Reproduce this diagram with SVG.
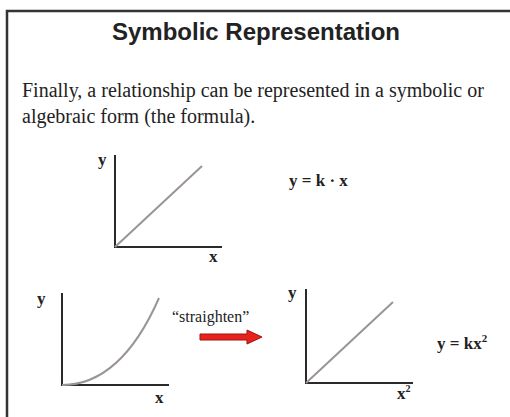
<svg xmlns="http://www.w3.org/2000/svg" width="510" height="417" viewBox="0 0 510 417">
<style>
.axis{stroke:#2a2a2a;stroke-width:2;fill:none}
.line{stroke:#9a9496;stroke-width:2;fill:none}
.lbl{font-family:"Liberation Serif","Times New Roman",serif;font-weight:bold;font-size:17px;fill:#222}
.eq{font-family:"Liberation Serif","Times New Roman",serif;font-weight:bold;font-size:17px;fill:#222}
.body{font-family:"Liberation Serif","Times New Roman",serif;font-size:20px;fill:#222}
</style>
<rect x="0" y="0" width="510" height="417" fill="#fff"/>
<rect x="7" y="11" width="520" height="420" fill="none" stroke="#333" stroke-width="2.5"/>
<g id="title">
<text x="256" y="40" text-anchor="middle" font-family="'Liberation Sans',Arial,sans-serif" font-weight="bold" font-size="24" fill="#222">Symbolic Representation</text>
</g>
<g id="intro">
<text class="body" x="22" y="97">Finally, a relationship can be represented in a symbolic or</text>
<text class="body" x="22" y="123">algebraic form (the formula).</text>
</g>
<g id="graph-linear">
<path class="axis" d="M115 155 V247 H222"/>
<path class="line" d="M115 247 L202 166"/>
<text class="lbl" x="98" y="165">y</text>
<text class="lbl" x="209" y="262">x</text>
</g>
<g id="formula-linear">
<text class="eq" x="289" y="186">y = k · x</text>
</g>
<g id="graph-curve">
<path class="axis" d="M62 293 V385 H169"/>
<path class="line" d="M62 385 C95 385 130 364 159 298"/>
<text class="lbl" x="37" y="304">y</text>
<text class="lbl" x="155" y="403">x</text>
</g>
<g id="straighten">
<text x="172" y="322" font-family="'Liberation Serif','Times New Roman',serif" font-size="16" fill="#222">“straighten”</text>
</g>
<g id="graph-straight">
<path class="axis" d="M306 289 V383 H413"/>
<path class="line" d="M306 383 L393 302"/>
<text class="lbl" x="288" y="298">y</text>
<text class="lbl" x="397" y="399">x<tspan font-size="10" dy="-7">2</tspan></text>
</g>
<g id="formula-square">
<text class="eq" x="437" y="349">y = kx<tspan font-size="11" dy="-7">2</tspan></text>
</g>
<g id="connectors">
<path d="M200 334 H247 V330 L262 337 L247 344 V340 H200 Z" fill="#e8211c" stroke="#9e1410" stroke-width="1"/>
</g>
</svg>
